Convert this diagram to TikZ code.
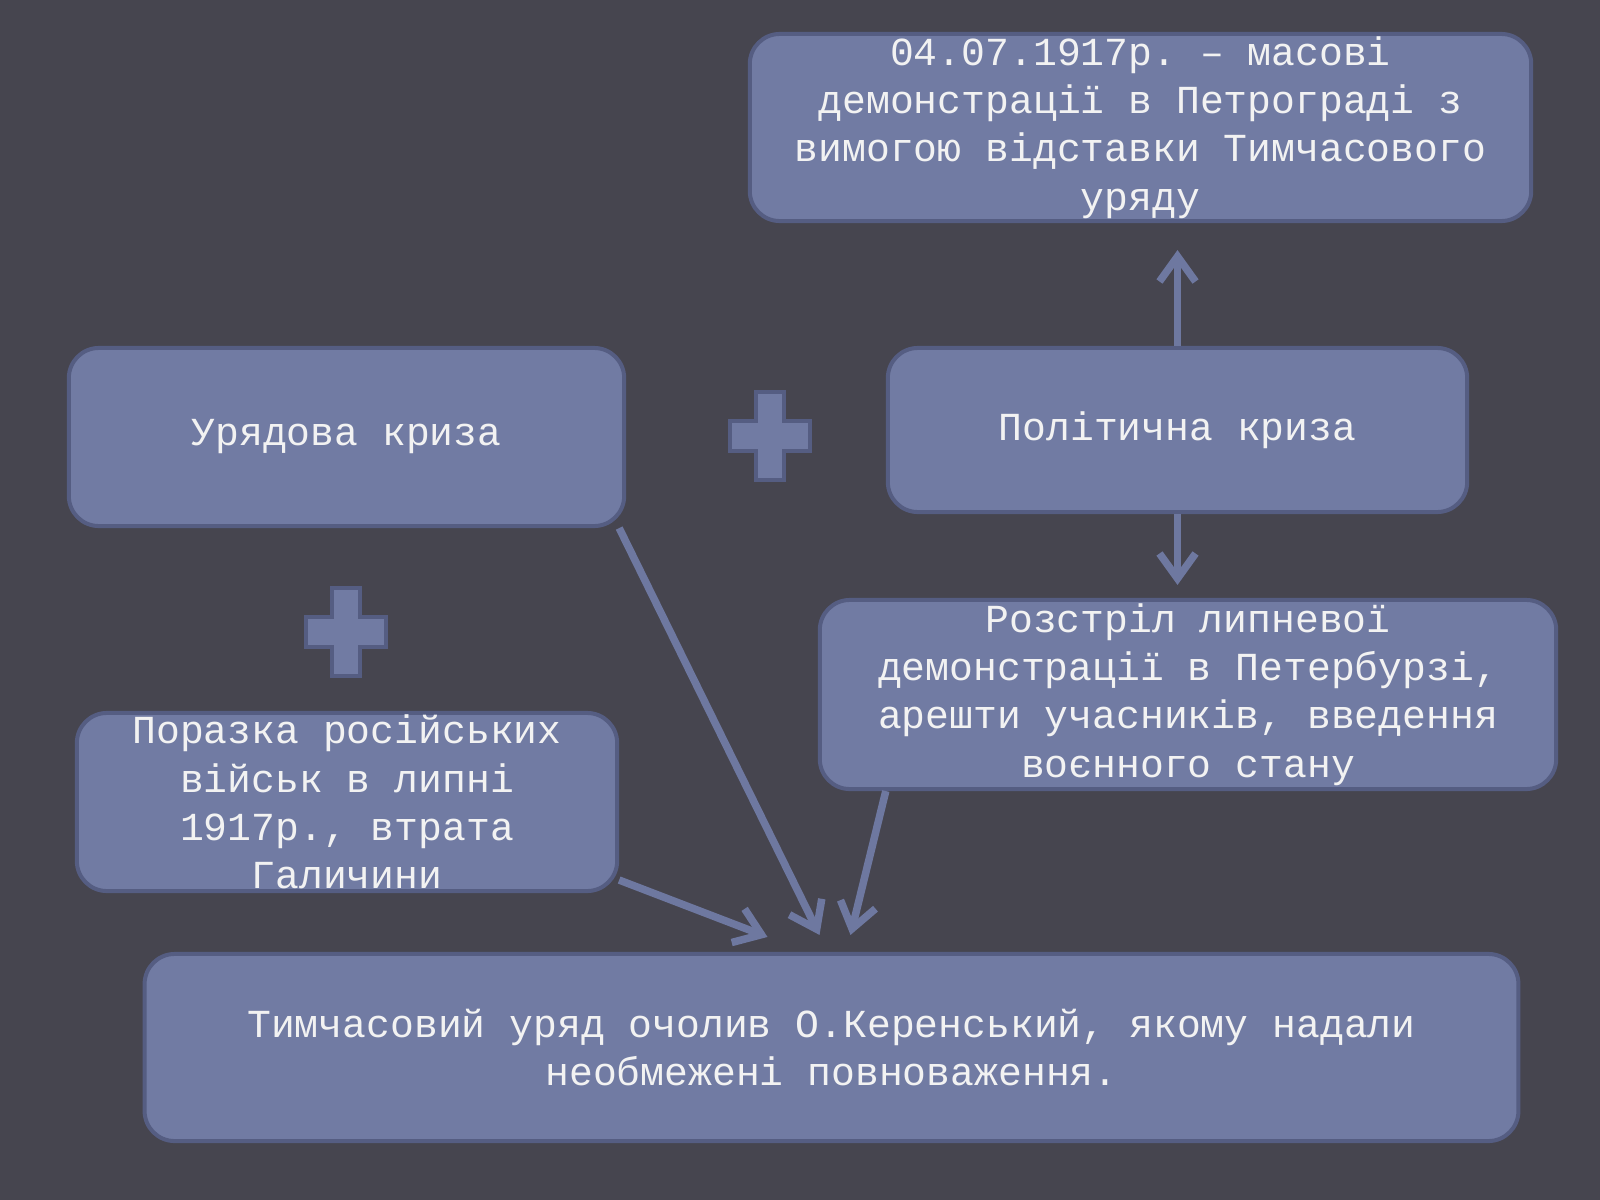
\documentclass[tikz,border=0pt]{standalone}
\usepackage{fontspec}
\setmainfont{Liberation Mono}
\frenchspacing
\usetikzlibrary{arrows.meta,calc}
\definecolor{bgcol}{HTML}{46454F}
\definecolor{boxfill}{HTML}{717BA3}
\definecolor{boxline}{HTML}{555D82}
\definecolor{arrowcol}{HTML}{6E78A0}
\definecolor{txtcol}{HTML}{F2F2F2}

\begin{document}
\begin{tikzpicture}[x=0.01cm, y=-0.01cm,
	box/.style={draw=boxline, line width=0.04cm, fill=boxfill, rounded corners=0.3cm,
		text=txtcol, align=center, inner sep=0pt, font=\fontsize{11.3}{13.7}\selectfont},
	link/.style={draw=arrowcol, line width=0.075cm, -{Straight Barb[length=0.25cm,width=0.36cm]}},
	cross/.style={draw=boxline, line width=0.045cm, fill=boxfill}]

		\fill[bgcol] (0,0) rectangle (1600,1200);

		\node[box, minimum width=7.81cm, minimum height=1.87cm] (demo) at (1140.5,127.5)
			{04.07.1917р. – масові\\демонстрації в Петрограді з\\вимогою відставки Тимчасового\\уряду};
		\node[box, minimum width=5.55cm, minimum height=1.78cm] (uryad) at (346.5,437) {Урядова криза};
		\node[box, minimum width=5.79cm, minimum height=1.64cm] (polit) at (1177.5,430) {Політична криза};
		\node[box, minimum width=7.36cm, minimum height=1.89cm] (rozstril) at (1188,694.5)
			{Розстріл липневої\\демонстрації в Петербурзі,\\арешти учасників, введення\\воєнного стану};
		\node[box, minimum width=5.40cm, minimum height=1.78cm] (porazka) at (347,802)
			{Поразка російських\\військ в липні\\1917р., втрата\\Галичини};
		\node[box, minimum width=13.73cm, minimum height=1.87cm] (kerensky) at (831.5,1047.5)
			{Тимчасовий уряд очолив О.Керенський, якому надали\\необмежені повноваження.};

		% plus signs
		\foreach \cx/\cy in {770/436, 346/632}{
			\draw[cross] (\cx-14,\cy-44) -- (\cx+14,\cy-44) -- (\cx+14,\cy-15) -- (\cx+40,\cy-15)
				-- (\cx+40,\cy+15) -- (\cx+14,\cy+15) -- (\cx+14,\cy+44) -- (\cx-14,\cy+44)
				-- (\cx-14,\cy+15) -- (\cx-40,\cy+15) -- (\cx-40,\cy-15) -- (\cx-14,\cy-15) -- cycle;
		}

		\draw[link, shorten >=0.27cm] (polit.north) -- (polit.north |- demo.south);
		\draw[link, shorten >=0.13cm] (polit.south) -- (polit.south |- rozstril.north);
		\draw[link] ($(uryad.south east)+(-7,0)$) -- ($(kerensky.north)+(-12,-17)$);
		\draw[link] ($(porazka.south east)+(0,-13)$) -- ($(kerensky.north)+(-64,-15)$);
		\draw[link] ($(rozstril.south west)+(68,0)$) -- ($(kerensky.north)+(19,-17)$);

	\end{tikzpicture}
\end{document}
